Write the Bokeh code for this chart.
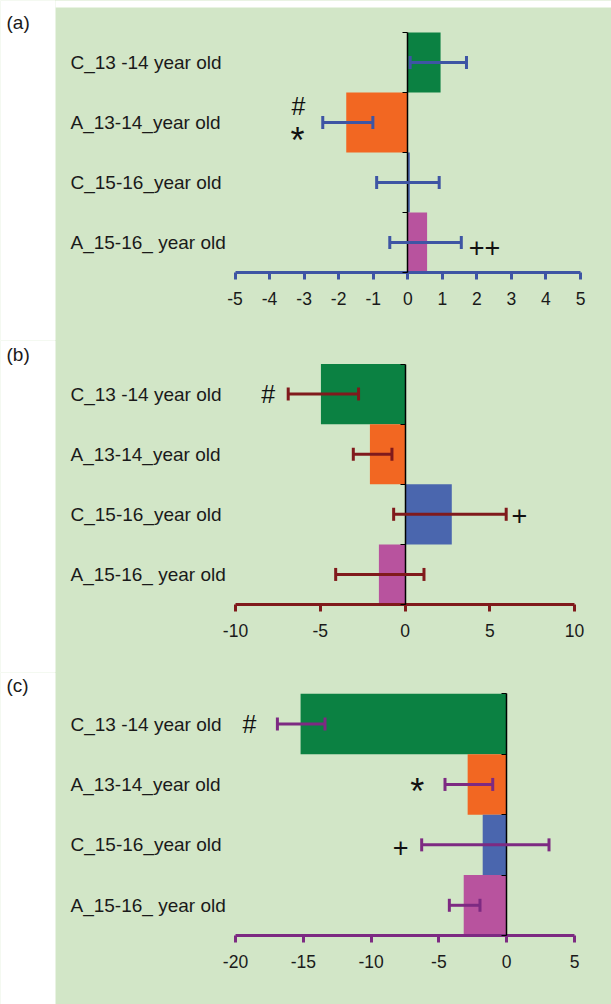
from bokeh.plotting import figure
from bokeh.layouts import column
from bokeh.models import (ColumnDataSource, Range1d, LinearAxis, FixedTicker,
                          Whisker, TeeHead, CustomJSTickFormatter)
from bokeh.core.properties import value
from bokeh.embed import file_html
from bokeh.resources import INLINE

# ---- data -------------------------------------------------------------
categories = ["C_13 -14 year  old", "A_13-14_year old",
              "C_15-16_year  old", "A_15-16_ year old"]
bar_colors = ["#0b8142", "#f26722", "#4a66ae", "#b8539e"]

# panel (a)
a_values = [0.95, -1.78, 0.06, 0.56]
a_lower = [0.07, -2.46, -0.90, -0.52]
a_upper = [1.70, -1.01, 0.91, 1.55]
a_ticks = [-5, -4, -3, -2, -1, 0, 1, 2, 3, 4, 5]
a_marks = ["#", "*", "++"]
a_mark_x = [-3.16, -3.19, 2.22]
a_mark_y = [2.77, 2.20, 0.41]

# panel (b)
b_values = [-4.96, -2.07, 2.76, -1.54]
b_lower = [-6.89, -3.05, -0.67, -4.09]
b_upper = [-2.74, -0.77, 5.97, 1.12]
b_ticks = [-10, -5, 0, 5, 10]
b_marks = ["#", "+"]
b_mark_x = [-8.07, 6.75]
b_mark_y = [3.50, 1.48]

# panel (c)
c_values = [-15.2, -2.88, -1.77, -3.17]
c_lower = [-16.91, -4.55, -6.27, -4.23]
c_upper = [-13.40, -1.03, 3.12, -1.97]
c_ticks = [-20, -15, -10, -5, 0, 5]
c_marks = ["#", "*", "+"]
c_mark_x = [-18.97, -6.60, -7.83]
c_mark_y = [3.50, 2.38, 1.46]

# ---- styling ----------------------------------------------------------
W = 611
STRIP = 55
PANEL_BG = "#d2e6c7"
FONT = "Liberation Sans"
MARK_SIZE = {"*": "36px", "#": "25px", "+": "27px", "++": "27px"}


def panel(tag, values, lower, upper, ticks, accent, marks, mark_x, mark_y,
          height, top_px, axis_px, lo_px, hi_px, tag_px, white_top=0):
    """One horizontal bar panel; pixel arguments are measured from the
    panel's top-left corner."""
    lo, hi = ticks[0], ticks[-1]
    xppu = (hi_px - lo_px) / (hi - lo)

    def xd(px):
        return lo + (px - lo_px) / xppu

    n = len(categories)
    yppu = (axis_px - top_px) / n

    def yd(px):
        return (axis_px - px) / yppu

    p = figure(width=W, height=height,
               x_range=Range1d(xd(0), xd(W)), y_range=Range1d(yd(height), yd(0)),
               output_backend="svg", toolbar_location=None, title=None,
               x_axis_location=None, y_axis_location=None, min_border=0,
               background_fill_color=PANEL_BG, border_fill_color=PANEL_BG,
               outline_line_color=None)
    p.grid.visible = False

    # white margin strip on the left (and on top for the first panel)
    p.quad(left=xd(-2), right=xd(STRIP), bottom=yd(height + 2), top=yd(-2),
           fill_color="white", line_color=None)
    if white_top:
        p.quad(left=xd(STRIP), right=xd(W + 2), bottom=yd(white_top), top=yd(-2),
               fill_color="white", line_color=None)

    p.text(x=[xd(6)], y=[yd(tag_px)], text=[tag], text_font=value(FONT),
           text_font_size="19px", text_color="#1a1a1a",
           text_align="left", text_baseline="middle")

    ys = [n - 0.5 - i for i in range(n)]
    src = ColumnDataSource(dict(y=ys, cat=categories, val=values,
                                lo=lower, hi=upper, color=bar_colors))

    p.hbar(y="y", left=0, right="val", height=1, fill_color="color",
           line_color=None, source=src)

    p.text(x=xd(70), y="y", text="cat", source=src, text_font=value(FONT),
           text_font_size="19px", text_color="#1a1a1a",
           text_align="left", text_baseline="middle")

    # vertical zero line with category separators
    zero_axis = LinearAxis(fixed_location=0, bounds=(0, n),
                           ticker=FixedTicker(ticks=list(range(n + 1))),
                           formatter=CustomJSTickFormatter(code="return ''"),
                           axis_line_color="black", axis_line_width=1.5,
                           major_tick_out=5, major_tick_in=0,
                           major_tick_line_color="black",
                           major_tick_line_width=1.2,
                           minor_tick_line_color=None)
    p.add_layout(zero_axis, "left")

    # value axis
    val_axis = LinearAxis(fixed_location=0, bounds=(lo, hi),
                          ticker=FixedTicker(ticks=ticks),
                          formatter=CustomJSTickFormatter(code="return String(tick)"),
                          axis_line_color=accent, axis_line_width=3,
                          major_tick_out=7, major_tick_in=0,
                          major_tick_line_color=accent,
                          major_tick_line_width=3,
                          minor_tick_line_color=None,
                          major_label_text_font=FONT,
                          major_label_text_font_size="17.5px",
                          major_label_text_color="#1a1a1a",
                          major_label_standoff=12)
    p.add_layout(val_axis, "below")

    whisk = Whisker(source=src, base="y", lower="lo", upper="hi",
                    dimension="width", line_color=accent, line_width=3,
                    level="annotation",
                    lower_head=TeeHead(size=13, line_color=accent, line_width=3),
                    upper_head=TeeHead(size=13, line_color=accent, line_width=3))
    p.add_layout(whisk)

    sizes = [MARK_SIZE[m] for m in marks]
    msrc = ColumnDataSource(dict(x=mark_x, y=mark_y, t=marks, s=sizes))
    p.text(x="x", y="y", text="t", source=msrc, text_font=value(FONT),
           text_font_size="s", text_color="#111111",
           text_align="center", text_baseline="middle")
    return p


pa = panel("(a)", a_values, a_lower, a_upper, a_ticks, "#3e55a4",
           a_marks, a_mark_x, a_mark_y,
           height=340, top_px=32, axis_px=272, lo_px=234.5, hi_px=580,
           tag_px=22, white_top=7)
pb = panel("(b)", b_values, b_lower, b_upper, b_ticks, "#801a1c",
           b_marks, b_mark_x, b_mark_y,
           height=332, top_px=23.5, axis_px=264, lo_px=235, hi_px=574,
           tag_px=14)
pc = panel("(c)", c_values, c_lower, c_upper, c_ticks, "#7d2a82",
           c_marks, c_mark_x, c_mark_y,
           height=332, top_px=21.3, axis_px=263, lo_px=235, hi_px=574,
           tag_px=13)

# page behind the panels: white strip on the left, panel colour elsewhere
backdrop = f"linear-gradient(to right, white {STRIP}px, {PANEL_BG} {STRIP}px)"
layout = column(pa, pb, pc, spacing=0, styles={"background": backdrop})
open("out.html", "w").write(file_html(layout, INLINE))
